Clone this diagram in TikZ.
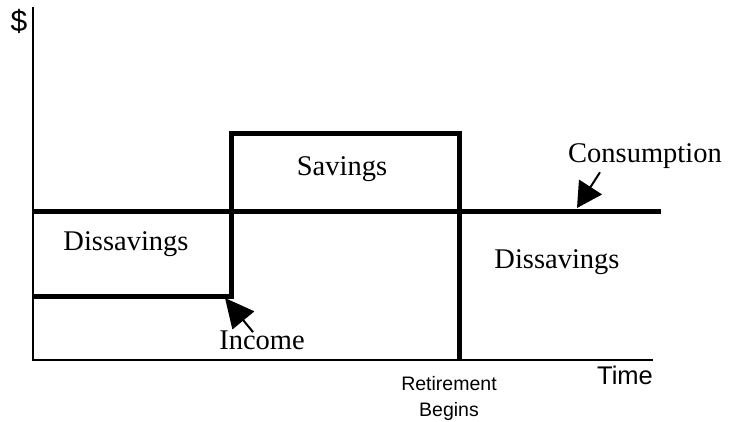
\documentclass[tikz,border=0pt]{standalone}
\usepackage{fontspec}
\setmainfont{Liberation Serif}
\newfontfamily\arialfont{Liberation Sans}
\usetikzlibrary{arrows.meta}

\tikzset{
  axis/.style={line width=2pt},
  stepline/.style={line width=5pt},
  lbl/.style={inner sep=0pt, anchor=base, font=\fontsize{28.5}{30}\selectfont},
  albl/.style={inner sep=0pt, anchor=base, font=\arialfont\fontsize{25.5}{28}\selectfont},
  smalllbl/.style={inner sep=0pt, anchor=base, font=\arialfont\fontsize{19.5}{22}\selectfont},
  ptr/.style={line width=2pt, -{Triangle[length=25pt,width=27pt]}}
}

\begin{document}
\begin{tikzpicture}[x=1pt,y=-1pt]

                  \useasboundingbox (0,0) rectangle (729,421);

                  % axes
                  \coordinate (origin) at (32.5,360);
                  \coordinate (ytop) at (32.5,7);
                  \coordinate (xend) at (653,360);
                  \draw[axis] (ytop) -- (origin) -- (xend);

                  \node[albl, font=\arialfont\fontsize{30}{32}\selectfont] (dollar) at (19,31) {\$};
                  \node[albl] (time) at (625,384) {Time};
                  \node[smalllbl] (retire) at (449,390) {Retirement};
                  \node[smalllbl] (begins) at (449,416.7) {Begins};

                  % consumption and income
                  \draw[stepline] (origin |- 0,211.5) -- (661,211.5);
                  \draw[stepline] (origin |- 0,296) -- (231.5,296) -- (231.5,133) -- (459,133) -- (459,360);

                  \node[lbl] (dissl) at (126,250) {Dissavings};
                  \node[lbl] (sav) at (342,175) {Savings};
                  \node[lbl] (dissr) at (557,268) {Dissavings};
                  \node[lbl] (cons) at (645,162) {Consumption};
                  \node[lbl] (inc) at (262,349) {Income};

                  % pointers
                  \coordinate (constip) at (577,208);
                  \coordinate (inctip) at (225,298);
                  \draw[ptr] (cons.south west) ++(32,4) -- (constip);
                  \draw[ptr, -{Triangle[length=29pt,width=28pt]}] (inc.north west) ++(34,2) -- (inctip);

                \end{tikzpicture}
\end{document}
